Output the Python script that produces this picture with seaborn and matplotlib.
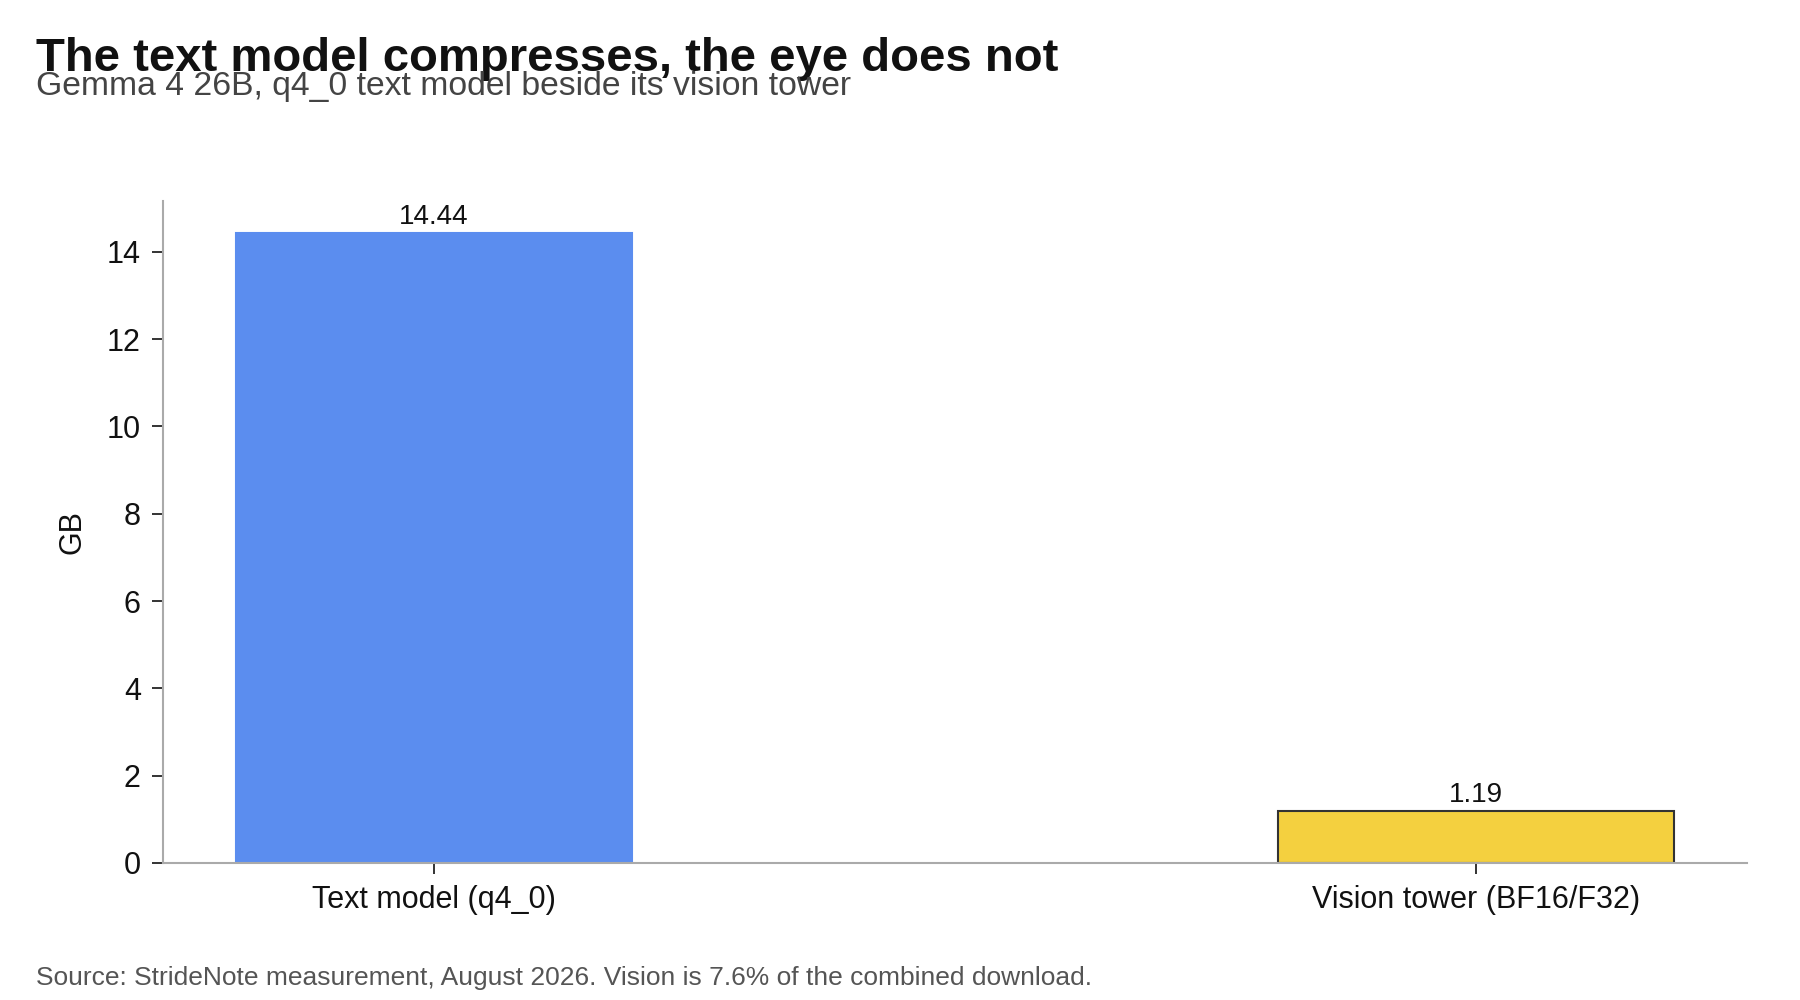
import matplotlib
matplotlib.use("Agg")
import matplotlib.pyplot as plt
import seaborn as sns
import pandas as pd

categories = ["Text model (q4_0)", "Vision tower (BF16/F32)"]
sizes_gb = [14.44, 1.19]
bar_colors = ["#5b8def", "#f4d03f"]
edge_colors = ["#5b8def", "#333333"]

title = "The text model compresses, the eye does not"
subtitle = "Gemma 4 26B, q4_0 text model beside its vision tower"
source = "Source: StrideNote measurement, August 2026. Vision is 7.6% of the combined download."

sns.set_theme(style="white")
plt.rcParams["font.family"] = ["Liberation Sans", "DejaVu Sans"]

df = pd.DataFrame({"part": categories, "gb": sizes_gb})

fig = plt.figure(figsize=(18, 10), dpi=100)
ax = fig.add_axes([0.0906, 0.137, 0.880, 0.662])

sns.barplot(data=df, x="part", y="gb", hue="part", palette=bar_colors,
            width=0.38, legend=False, ax=ax, saturation=1)

for patch, ec in zip(ax.patches, edge_colors):
    patch.set_edgecolor(ec)
    patch.set_linewidth(1.5)

for cont in ax.containers:
    ax.bar_label(cont, fmt="%.2f", fontsize=20, color="#111111", padding=2)

# same padding as matplotlib's default 5% margin around the bars
ax.set_xlim(-0.26, 1.26)
ax.set_ylim(0, max(sizes_gb) * 1.05)
ax.set_xlabel("")
ax.set_ylabel("GB", fontsize=22, color="#111111", labelpad=14)
ax.tick_params(axis="both", labelsize=22, colors="#111111", length=8, width=1.2,
               direction="out", left=True, bottom=True, pad=8)

sns.despine(ax=ax)
for side in ["left", "bottom"]:
    ax.spines[side].set_color("#aaaaaa")
    ax.spines[side].set_linewidth(1.5)

fig.text(0.02, 0.929, title, fontsize=34, fontweight="bold", color="#111111", va="baseline")
fig.text(0.02, 0.905, subtitle, fontsize=24.3, color="#444444", va="baseline")
fig.text(0.02, 0.015, source, fontsize=19, color="#555555", va="baseline")

fig.savefig("out.png", dpi=100)
